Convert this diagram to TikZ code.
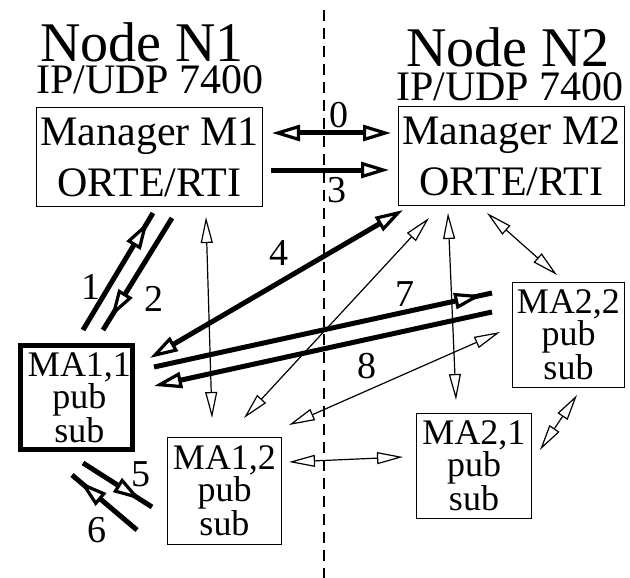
\documentclass[tikz,border=0pt]{standalone}
\usepackage{fontspec}
\setmainfont{Liberation Serif}
\usetikzlibrary{arrows.meta,decorations.markings}

\tikzset{
  titletext/.style={font=\fontsize{56}{60}\selectfont, inner sep=0pt, text depth=0pt},
  iptext/.style={font=\fontsize{42}{46}\selectfont, inner sep=0pt, text depth=0pt},
  numtext/.style={font=\fontsize{38}{40}\selectfont, inner sep=0pt},
  mgrbox/.style={draw, line width=1.3pt, inner sep=0pt, align=center,
    minimum width=226pt, minimum height=99pt,
    font=\fontsize{42}{51}\selectfont},
  agentbox/.style={draw, line width=1.3pt, inner sep=0pt, align=center,
    font=\fontsize{36}{32}\selectfont},
  divider/.style={line width=1.4pt, dash pattern=on 11pt off 7pt},
  bighead/.tip={Triangle[fill=white, length=28pt, width=16pt, line width=3.2pt]},
  smallhead/.tip={Triangle[fill=white, length=26pt, width=12pt, line width=1.2pt]},
  heavy/.style={line width=5pt},
  light/.style={line width=1.2pt},
  % head set back from the line end, the line running on under it
  headback/.style={postaction={decorate, decoration={markings,
    mark=at position -#1 with {\arrow{bighead}}}}},
}

\begin{document}
\begin{tikzpicture}[x=1pt, y=-1pt]
\useasboundingbox (0,0) rectangle (630,578);

% network partition
\coordinate (divtop) at (324,10);
\coordinate (divbot) at (324,578);
\draw[divider] (divtop) -- (divbot);

% node headings
\node[titletext, anchor=base] (n1) at (142,62) {Node N1};
\node[iptext, anchor=base] (ip1) at (150,94) {IP/UDP 7400};
\node[titletext, anchor=base] (n2) at (508,67) {Node N2};
\node[iptext, anchor=base] (ip2) at (510,100) {IP/UDP 7400};

% managers
\node[mgrbox] (m1) at (149.5,157) {Manager M1\\ORTE/RTI};
\node[mgrbox] (m2) at (511.5,156) {Manager M2\\ORTE/RTI};

% applications
\node[agentbox, line width=5pt, minimum width=112pt, minimum height=104pt]
  (ma11) at (76.5,397.5) {\hspace*{6pt}MA1,1\\\hspace*{6pt}pub\\\hspace*{6pt}sub};
\node[agentbox, minimum width=114pt, minimum height=107pt]
  (ma12) at (224.5,491) {MA1,2\\pub\\sub};
\node[agentbox, minimum width=115pt, minimum height=105pt]
  (ma21) at (474,466) {MA2,1\\pub\\sub};
\node[agentbox, minimum width=112pt, minimum height=105pt]
  (ma22) at (568.5,335) {MA2,2\\pub\\sub};

% connector end points
\coordinate (a0l) at (272,133);  \coordinate (a0r) at (391,133);
\coordinate (a3l) at (271,170);  \coordinate (a3r) at (389,170);
\coordinate (a4a) at (150,358);  \coordinate (a4b) at (403,210);
\coordinate (a1a) at (83,330);   \coordinate (a1b) at (153,213);
\coordinate (a2a) at (172,218);  \coordinate (a2b) at (103,330);
\coordinate (a5a) at (83,463);   \coordinate (a5b) at (152,507);
\coordinate (a6a) at (137,530);  \coordinate (a6b) at (72,475);
\coordinate (a7a) at (154,367);  \coordinate (a7b) at (492,293);
\coordinate (a8a) at (492,312);  \coordinate (a8b) at (154,386);

\coordinate (t1a) at (206,217);  \coordinate (t1b) at (212,418);
\coordinate (t2a) at (429,218);  \coordinate (t2b) at (244,418);
\coordinate (t3a) at (448,213);  \coordinate (t3b) at (456,400);
\coordinate (t4a) at (487,213);  \coordinate (t4b) at (557,275);
\coordinate (t5a) at (500,332);  \coordinate (t5b) at (289,425);
\coordinate (t6a) at (289,462);  \coordinate (t6b) at (403,457);
\coordinate (t7a) at (540,450);  \coordinate (t7b) at (577,395);

% thin two-way links
\draw[light, smallhead-smallhead] (t1a) -- (t1b);
\draw[light, smallhead-smallhead] (t2a) -- (t2b);
\draw[light, smallhead-smallhead] (t3a) -- (t3b);
\draw[light, smallhead-smallhead] (t4a) -- (t4b);
\draw[light, smallhead-smallhead] (t5a) -- (t5b);
\draw[light, smallhead-smallhead] (t6a) -- (t6b);
\draw[light, smallhead-smallhead] (t7a) -- (t7b);

% numbered message exchanges
\draw[heavy, bighead-bighead] (a0l) -- (a0r);
\draw[heavy, -bighead] (a3l) -- (a3r);
\draw[heavy, bighead-bighead] (a4a) -- (a4b);
\draw[heavy, headback=10pt] (a1a) -- (a1b);
\draw[heavy, headback=15pt] (a2a) -- (a2b);
\draw[heavy, headback=13pt] (a5a) -- (a5b);
\draw[heavy, headback=10pt] (a6a) -- (a6b);
\draw[heavy, headback=10pt] (a7a) -- (a7b);
\draw[heavy, -bighead] (a8a) -- (a8b);

% message numbers
\node[numtext] (l0) at (339,115) {0};
\node[numtext] (l3) at (337,190) {3};
\node[numtext] (l4) at (279,253) {4};
\node[numtext] (l1) at (91,287) {1};
\node[numtext] (l2) at (154,299) {2};
\node[numtext] (l5) at (141,474) {5};
\node[numtext] (l6) at (97,530) {6};
\node[numtext] (l7) at (405,294) {7};
\node[numtext] (l8) at (367,366) {8};
\end{tikzpicture}
\end{document}
